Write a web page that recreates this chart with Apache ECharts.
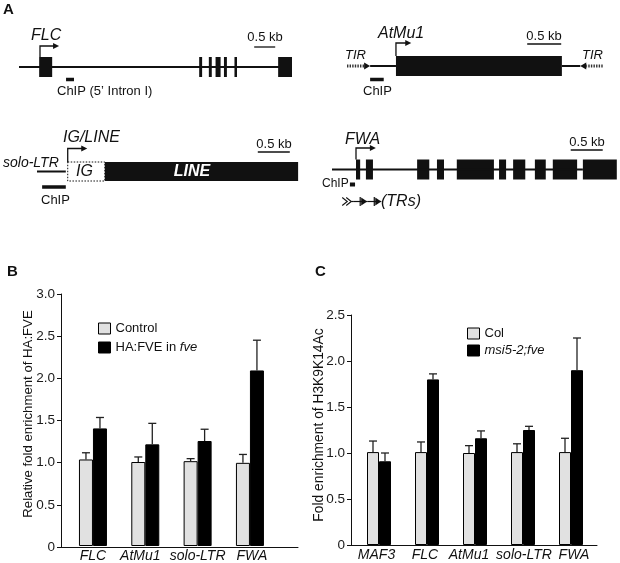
<!DOCTYPE html>
<html><head><meta charset="utf-8">
<script src="https://cdn.jsdelivr.net/npm/echarts@6/dist/echarts.min.js"></script>
<style>html,body{margin:0;padding:0;background:#fff}#c{width:620px;height:563px}</style>
</head><body><div id="c"></div>
<script>
// ---------- Panel B data ----------
const bCategories = ['FLC', 'AtMu1', 'solo-LTR', 'FWA'];
const bControl = [1.03, 1.00, 1.01, 0.99];
const bControlErr = [0.08, 0.06, 0.03, 0.10];
const bHaFve = [1.40, 1.21, 1.25, 2.09];
const bHaFveErr = [0.13, 0.25, 0.14, 0.36];
const bYMax = 3.0;
// ---------- Panel C data ----------
const cCategories = ['MAF3', 'FLC', 'AtMu1', 'solo-LTR', 'FWA'];
const cCol = [1.01, 1.01, 1.00, 1.01, 1.01];
const cColErr = [0.12, 0.11, 0.08, 0.09, 0.15];
const cMsi = [0.91, 1.80, 1.16, 1.25, 1.90];
const cMsiErr = [0.09, 0.06, 0.08, 0.04, 0.35];
const cYMax = 2.5;
// ---------- Panel A gene maps (positions in kb) ----------
const flcBackbone = [[0, 6.5]];
const flcExons = [[0.48, 0.79], [4.29, 4.36], [4.52, 4.59], [4.68, 4.80], [4.88, 4.95], [5.13, 5.19], [6.17, 6.5]];
const flcTss = [[0.5, 0.93]];
const flcChip = [[1.12, 1.31]];
const flcScale = [[5.6, 6.1]];
const atmuBackbone = [[0.34, 0.72], [3.16, 3.43]];
const atmuExons = [[0.72, 3.16]];
const atmuTir = [[0, 0.34], [3.76, 3.43]];
const atmuTss = [[0.72, 0.93]];
const atmuChip = [[0.34, 0.54]];
const atmuScale = [[2.65, 3.15]];
const lineSolo = [[0, 0.45]];
const lineIg = [[0.48, 1.06]];
const lineBody = [[1.06, 4.08]];
const lineTss = [[0.48, 0.77]];
const lineChip = [[0.08, 0.45]];
const lineScale = [[3.45, 3.95]];
const fwaBackbone = [[0, 3.92]];
const fwaExons = [[0.375, 0.44], [0.53, 0.64], [1.33, 1.52], [1.64, 1.75], [1.95, 2.53], [2.61, 2.72], [2.83, 3.02], [3.17, 3.34], [3.45, 3.83], [3.92, 4.45]];
const fwaTss = [[0.375, 0.67]];
const fwaChip = [[0.28, 0.36]];
const fwaScale = [[3.73, 4.23]];
const fwaRepeatChevron = [[0.16, 0.33]];
const fwaRepeatArrows = [[0.33, 0.55], [0.55, 0.77]];

const F = '"Liberation Sans", Arial, Helvetica, sans-serif';
const INK = '#111';

const chart = echarts.init(document.getElementById('c'), null, {renderer: 'canvas'});

const grids = [], xAxes = [], yAxes = [], series = [];

// diagram grid: y axis from -50..50 so y=0 sits on the track line
function diagram(left, trackY, pxPerKb, lenKb) {
  const gi = grids.length;
  grids.push({left: left, top: trackY - 50, width: pxPerKb * lenKb, height: 100});
  xAxes.push({type: 'value', gridIndex: gi, min: 0, max: lenKb, show: false});
  yAxes.push({type: 'value', gridIndex: gi, min: -50, max: 50, show: false});
  return gi;
}
function feat(gi, data, draw, z) {
  series.push({
    type: 'custom', xAxisIndex: gi, yAxisIndex: gi, data: data, z: z || 2, silent: true, clip: false,
    renderItem: function (p, api) {
      const a = api.coord([api.value(0), 0]);
      const b = api.coord([api.value(1), 0]);
      return draw(a, b);
    }
  });
}
const drawLine = (dy, w) => (a, b) => ({type: 'line', shape: {x1: a[0], y1: a[1] + dy, x2: b[0], y2: b[1] + dy}, style: {stroke: INK, lineWidth: w}});
const drawRect = (dy, h) => (a, b) => ({type: 'rect', shape: {x: a[0], y: a[1] + dy - h / 2, width: b[0] - a[0], height: h}, style: {fill: INK}});
const drawTss = (dyBase, dyTop) => (a, b) => ({type: 'group', children: [
  {type: 'polyline', shape: {points: [[a[0], a[1] + dyBase], [a[0], a[1] + dyTop], [b[0] - 2, b[1] + dyTop]]}, style: {stroke: INK, lineWidth: 1.3, fill: null}},
  {type: 'polygon', shape: {points: [[b[0] + 1, b[1] + dyTop], [b[0] - 5, b[1] + dyTop - 3], [b[0] - 5, b[1] + dyTop + 3]]}, style: {fill: INK}}
]});
const drawTir = (a, b) => {
  const dir = b[0] > a[0] ? 1 : -1;
  const base = b[0] - 6 * dir;
  return {type: 'group', children: [
    {type: 'line', shape: {x1: a[0], y1: a[1], x2: base, y2: a[1]}, style: {stroke: '#333', lineWidth: 3, lineDash: [1.4, 1.2]}},
    {type: 'polygon', shape: {points: [[b[0], b[1]], [base, b[1] - 3.5], [base, b[1] + 3.5]]}, style: {fill: INK}}
  ]};
};
const drawIg = (a, b) => ({type: 'rect', shape: {x: a[0], y: a[1] - 9.5, width: b[0] - a[0], height: 19}, style: {fill: '#fff', stroke: INK, lineWidth: 1, lineDash: [1.5, 1.5]}});
const drawBody = (a, b) => ({type: 'rect', shape: {x: a[0], y: a[1] - 9.5, width: b[0] - a[0], height: 19}, style: {fill: INK}});
const drawChevron = (dy) => (a, b) => {
  const y = a[1] + dy, x = a[0];
  return {type: 'group', children: [
    {type: 'polyline', shape: {points: [[x, y - 4], [x + 5, y], [x, y + 4]]}, style: {stroke: INK, lineWidth: 1.1, fill: null}},
    {type: 'polyline', shape: {points: [[x + 4, y - 4], [x + 9, y], [x + 4, y + 4]]}, style: {stroke: INK, lineWidth: 1.1, fill: null}},
    {type: 'line', shape: {x1: x + 9, y1: y, x2: b[0], y2: y}, style: {stroke: INK, lineWidth: 1.2}}
  ]};
};
const drawArrow = (dy) => (a, b) => {
  const y = a[1] + dy;
  return {type: 'group', children: [
    {type: 'line', shape: {x1: a[0], y1: y, x2: b[0], y2: y}, style: {stroke: INK, lineWidth: 1.2}},
    {type: 'line', shape: {x1: b[0] - 7, y1: y - 4.5, x2: b[0] - 7, y2: y + 4.5}, style: {stroke: INK, lineWidth: 1.2}},
    {type: 'polygon', shape: {points: [[b[0], y], [b[0] - 6, y - 4], [b[0] - 6, y + 4]]}, style: {fill: INK}}
  ]};
};

// FLC
let g = diagram(19, 67, 42, 6.5);
feat(g, flcBackbone, drawLine(0, 2));
feat(g, flcExons, drawRect(0, 20), 3);
feat(g, flcTss, drawTss(-10, -21));
feat(g, flcChip, drawRect(12.5, 3.5));
feat(g, flcScale, drawLine(-20, 1.3));
// AtMu1
g = diagram(347, 66, 68, 3.76);
feat(g, atmuBackbone, drawLine(0, 2));
feat(g, atmuExons, drawRect(0, 20), 3);
feat(g, atmuTir, drawTir);
feat(g, atmuTss, drawTss(-10, -23));
feat(g, atmuChip, drawRect(13.5, 3.5));
feat(g, atmuScale, drawLine(-22, 1.3));
// solo-LTR / IG / LINE
g = diagram(37, 171.5, 64, 4.08);
feat(g, lineSolo, drawLine(0, 2));
feat(g, lineIg, drawIg);
feat(g, lineBody, drawBody);
feat(g, lineTss, drawTss(-9.5, -23));
feat(g, lineChip, drawRect(15.5, 3.5));
feat(g, lineScale, drawLine(-19.5, 1.3));
// FWA
g = diagram(332, 169.5, 64, 4.45);
feat(g, fwaExons, drawRect(0, 20), 2);
feat(g, fwaBackbone, drawLine(0, 2), 3);
feat(g, fwaTss, drawTss(-10, -21.5));
feat(g, fwaChip, drawRect(15, 4));
feat(g, fwaScale, drawLine(-19.5, 1.3));
feat(g, fwaRepeatChevron, drawChevron(32));
feat(g, fwaRepeatArrows, drawArrow(32));

// ---------- bar panels ----------
function frame(left, top, width, height, ymax) {
  const gi = grids.length;
  grids.push({left: left, top: top, width: width, height: height});
  xAxes.push({type: 'value', gridIndex: gi, min: 0, max: 1, axisLine: {show: true, onZero: false, lineStyle: {color: INK, width: 1}},
    axisTick: {show: false}, axisLabel: {show: false}, splitLine: {show: false}});
  yAxes.push({type: 'value', gridIndex: gi, min: 0, max: ymax, interval: 0.5,
    axisLine: {show: true, lineStyle: {color: INK, width: 1}},
    axisTick: {show: true, inside: false, length: 4, lineStyle: {color: INK, width: 1}},
    axisLabel: {show: true, margin: 6, fontSize: 13.5, fontFamily: F, color: '#1a1a1a', formatter: v => v === 0 ? '0' : v.toFixed(1)},
    splitLine: {show: false}});
}
// per-label horizontal nudges (px) to mimic the hand-placed labels
function labelRich(shifts) {
  const rich = {};
  shifts.forEach((s, i) => {
    rich['k' + i] = {fontSize: 14, fontStyle: 'italic', fontFamily: F, color: INK,
      padding: s < 0 ? [0, -2 * s, 0, 0] : [0, 0, 0, 2 * s]};
  });
  return rich;
}
function bars(left, top, width, height, ymax, cats, names, vals, errs, bw, shifts) {
  const gi = grids.length;
  grids.push({left: left, top: top, width: width, height: height});
  xAxes.push({type: 'category', gridIndex: gi, data: cats, axisLine: {show: false}, axisTick: {show: false},
    axisLabel: {interval: 0, margin: 3, fontSize: 14, fontStyle: 'italic', fontFamily: F, color: INK,
      formatter: (v, i) => '{k' + i + '|' + v + '}', rich: labelRich(shifts)}});
  yAxes.push({type: 'value', gridIndex: gi, min: 0, max: ymax, show: false});
  const fills = ['#e1e1e1', '#000'];
  [0, 1].forEach(k => {
    series.push({type: 'bar', name: names[k], xAxisIndex: gi, yAxisIndex: gi, data: vals[k], barWidth: bw, barGap: '0%',
      itemStyle: {color: fills[k], borderColor: '#000', borderWidth: 1}, silent: true, z: 2});
    const side = k === 0 ? -1 : 1;
    series.push({type: 'custom', xAxisIndex: gi, yAxisIndex: gi, silent: true, z: 3,
      data: cats.map((c, i) => [i, vals[k][i], errs[k][i]]),
      renderItem: function (p, api) {
        const base = api.coord([api.value(0), api.value(1)]);
        const top = api.coord([api.value(0), api.value(1) + api.value(2)]);
        const x = base[0] + side * bw / 2;
        return {type: 'group', children: [
          {type: 'line', shape: {x1: x, y1: base[1], x2: x, y2: top[1]}, style: {stroke: '#222', lineWidth: 1.3}},
          {type: 'line', shape: {x1: x - 4, y1: top[1], x2: x + 4, y2: top[1]}, style: {stroke: '#222', lineWidth: 1.3}}
        ]};
      }});
  });
}
frame(61, 294, 237, 253, bYMax);
bars(66.8, 294, 209.3, 253, bYMax, bCategories, ['Control', 'HA:FVE in fve'], [bControl, bHaFve], [bControlErr, bHaFveErr], 14, [0, -5, 0, 2]);
frame(351, 315, 246, 230, cYMax);
bars(355, 315, 240, 230, cYMax, cCategories, ['Col', 'msi5-2;fve'], [cCol, cMsi], [cColErr, cMsiErr], 12, [-2.5, -2, -6, 1, 3]);

function T(x, y, text, font, align, extra) {
  return Object.assign({type: 'text', x: x, y: y, z: 100, silent: true,
    style: {text: text, font: font, fill: INK, align: align || 'left', verticalAlign: 'middle'}}, extra || {});
}
const it = s => 'italic ' + s + 'px ' + F;
const rg = s => s + 'px ' + F;
const bd = s => 'bold ' + s + 'px ' + F;

const graphic = [
  T(3, 10, 'A', bd(15)),
  T(7, 272, 'B', bd(15)),
  T(315, 272, 'C', bd(15)),
  T(31, 36, 'FLC', it(16)),
  T(265, 37, '0.5 kb', rg(13), 'center'),
  T(57, 91, 'ChIP (5\u2019 Intron I)', rg(13)),
  T(378, 34, 'AtMu1', it(16)),
  T(345, 55, 'TIR', it(13)),
  T(582, 55, 'TIR', it(13)),
  T(544, 36.5, '0.5 kb', rg(13), 'center'),
  T(363, 91, 'ChIP', rg(13)),
  T(63, 137.5, 'IG/LINE', it(16)),
  T(274, 144, '0.5 kb', rg(13), 'center'),
  T(3, 163, 'solo-LTR', it(14)),
  T(76, 172, 'IG', it(16)),
  T(192, 172, 'LINE', 'italic bold 16px ' + F, 'center', {style: {text: 'LINE', font: 'italic bold 16px ' + F, fill: '#fff', align: 'center', verticalAlign: 'middle'}}),
  T(41, 200, 'ChIP', rg(13)),
  T(345, 140, 'FWA', it(16)),
  T(587, 142.5, '0.5 kb', rg(13), 'center'),
  T(322, 184, 'ChIP', rg(12)),
  T(381, 202, '(TRs)', it(16)),
  T(28, 414, 'Relative fold enrichment of HA:FVE', rg(13.2), 'center', {rotation: Math.PI / 2}),
  T(319, 425, 'Fold enrichment of H3K9K14Ac', rg(13.8), 'center', {rotation: Math.PI / 2})
];

const legendBase = {orient: 'vertical', icon: 'rect', itemWidth: 12, itemHeight: 11, itemGap: 6, selectedMode: false, padding: 0,
  itemStyle: {borderColor: '#000', borderWidth: 1},
  textStyle: {fontSize: 13, fontFamily: F, color: INK, rich: {i: {fontSize: 13, fontFamily: F, fontStyle: 'italic', color: INK}}}};

chart.setOption({
  animation: false,
  backgroundColor: '#fff',
  grid: grids, xAxis: xAxes, yAxis: yAxes, series: series,
  graphic: graphic,
  legend: [
    Object.assign({}, legendBase, {data: ['Control', 'HA:FVE in fve'], left: 98, top: 322,
      formatter: n => n === 'HA:FVE in fve' ? 'HA:FVE in {i|fve}' : n}),
    Object.assign({}, legendBase, {data: ['Col', 'msi5-2;fve'], left: 467, top: 327, itemGap: 4,
      formatter: n => n === 'msi5-2;fve' ? '{i|msi5-2;fve}' : n})
  ]
});
</script></body></html>
